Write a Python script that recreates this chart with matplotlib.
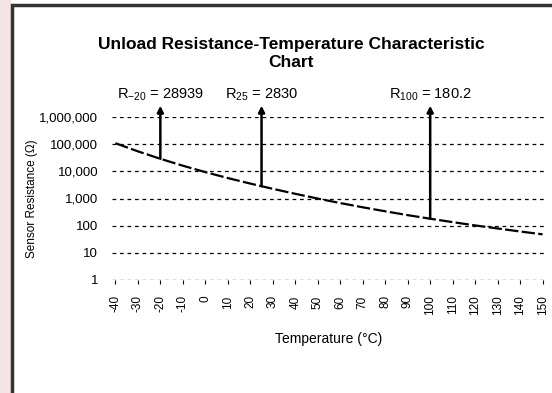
import matplotlib
matplotlib.use('Agg')
import matplotlib.pyplot as plt
from matplotlib.patches import Rectangle
from matplotlib.ticker import FixedLocator, FuncFormatter

# 数据
temps = [-40, -30, -20, -10, 0, 10, 20, 30, 40, 50, 60, 70, 80, 90, 100, 110, 120, 130, 140, 150]
resistance = [108600, 54560, 28939, 16120, 9370, 5660, 3540, 2270, 1490, 994,
              679, 475, 338, 244, 180.2, 135, 102, 78.8, 61.0, 48.0]
marked_temps = [-20, 25, 100]
marked_values = [28939, 2830, 180.2]
marked_subs = ['-20', '25', '100']
marked_text = ['28939', '2830', '180.2']
y_ticks = [1, 10, 100, 1000, 10000, 100000, 1000000]

plt.rcParams['font.family'] = ['Liberation Sans', 'DejaVu Sans']
plt.rcParams['mathtext.default'] = 'regular'

fig = plt.figure(figsize=(5.52, 3.93), dpi=100)

# 左侧粉色条 + 外框
fig.patches.append(Rectangle((0, 0), 11 / 552, 1, transform=fig.transFigure,
                             facecolor='#f3e3e4', edgecolor='none', zorder=0))
fig.patches.append(Rectangle((12 / 552, -0.1), 1.2, 1.1 - 5 / 393, transform=fig.transFigure,
                             facecolor='none', edgecolor='#333333', linewidth=2.5, zorder=1))

ax = fig.add_axes([112 / 552, 113 / 393, 434 / 552, 163 / 393])
ax.plot(temps, resistance, color='black', linewidth=1.6, linestyle=(0, (6, 1.5)))
ax.set_yscale('log')
ax.set_ylim(1, 1000000)
ax.set_xlim(-41.5, 151.5)

for v in y_ticks:
    ax.axhline(v, color='black', linewidth=0.9, linestyle=(0, (3, 3)), zorder=0)

ax.yaxis.set_major_locator(FixedLocator(y_ticks))
ax.yaxis.set_minor_locator(FixedLocator([]))
ax.yaxis.set_major_formatter(FuncFormatter(lambda v, p: f'{int(v):,}'))
ax.set_xticks(temps)
ax.set_xticklabels([str(t) for t in temps], rotation=90, fontsize=8.5)
ax.tick_params(axis='y', length=0, labelsize=9.5, pad=10)
ax.tick_params(axis='x', length=3, pad=8)
for s in ax.spines.values():
    s.set_visible(False)

ax.set_ylabel('Sensor Resistance (Ω)', fontsize=8.5, labelpad=1)
ax.set_xlabel('Temperature (°C)', fontsize=10, labelpad=12)

# 标注箭头
for t, v, sub, txt in zip(marked_temps, marked_values, marked_subs, marked_text):
    ax.annotate('', xy=(t, 2600000), xytext=(t, v), annotation_clip=False,
                arrowprops=dict(arrowstyle='-|>', color='black', lw=1.8, mutation_scale=9,
                                shrinkA=0, shrinkB=0))
    ax.text(t, 3300000, f'R$_{{{sub}}}$ = {txt}', ha='center', va='bottom', fontsize=10.5)

fig.text(0.527, 1 - 37 / 393, 'Unload Resistance-Temperature Characteristic\nChart',
         ha='center', va='top', fontsize=12.5, fontweight='bold', linespacing=1.25)

plt.savefig('out.png', dpi=100)
